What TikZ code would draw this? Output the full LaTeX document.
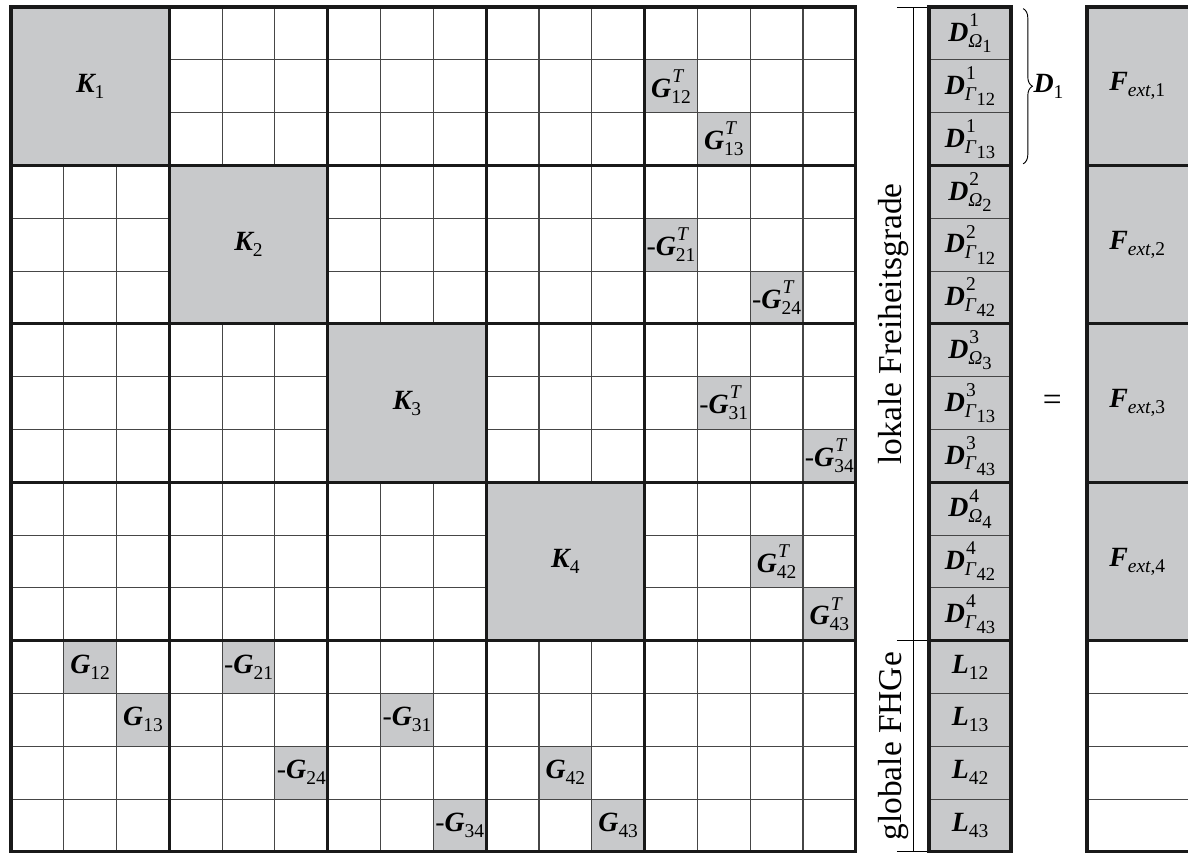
\documentclass[tikz,border=0pt]{standalone}
\usepackage{fontspec}
\setmainfont{Liberation Serif}
\usetikzlibrary{positioning, decorations.pathreplacing}
\definecolor{cellgray}{RGB}{200,201,203}
\definecolor{linegray}{RGB}{70,70,70}
\newcommand{\bfit}[1]{{\bfseries\itshape #1}}
\newcommand{\lsub}[1]{\raisebox{-3.2pt}{\fontsize{10.5}{11}\selectfont\mdseries\upshape #1}}
\newcommand{\lsup}[1]{\rlap{\kern0.6pt\raisebox{8pt}{\fontsize{10.5}{11}\selectfont\mdseries\upshape #1}}}
\newcommand{\nsub}[1]{\raisebox{-2.8pt}{\fontsize{10}{11}\selectfont\upshape #1}}

\begin{document}
\begin{tikzpicture}[x=1cm, y=-1cm,
    thinline/.style={draw=linegray, line width=0.55pt},
    thickline/.style={draw=black!90, line width=1.7pt},
    entry/.style={font=\fontsize{15}{17}\selectfont, inner sep=0pt},
    side/.style={font=\fontsize{18}{20}\selectfont, inner sep=0pt}]
  \useasboundingbox (-0.208,-0.133) rectangle (22.292,16.04);

  % coupling cells
  \foreach \c/\r in {12/1,13/2,12/4,14/5,13/7,15/8,14/10,15/11,
                     1/12,4/12,2/13,7/13,5/14,10/14,8/15,11/15}
    \fill[cellgray] (\c,\r) rectangle ++(1,1);

  % system matrix
  \draw[thinline] (0,0) grid (16,16);
  \foreach \b in {0,...,3}
    \fill[cellgray] (3*\b,3*\b) rectangle ++(3,3);
  \foreach \k in {3,6,9,12} {
    \draw[thickline] (\k,0) -- (\k,16);
    \draw[thickline] (0,\k) -- (16,\k);
  }
  \draw[thickline] (0,0) rectangle (16,16);

  \foreach \i in {1,...,4}
    \node[entry] (K\i) at ({3*\i-1.5},{3*\i-1.5}) {\bfit{K}\lsub{\i}};

  \node[entry] (GT12) at (12.5,1.5) {\bfit{G}\lsup{\textit{T}}\lsub{12}};
  \node[entry] (GT13) at (13.5,2.5) {\bfit{G}\lsup{\textit{T}}\lsub{13}};
  \node[entry] (GT21) at (12.5,4.5) {-\bfit{G}\lsup{\textit{T}}\lsub{21}};
  \node[entry] (GT24) at (14.5,5.5) {-\bfit{G}\lsup{\textit{T}}\lsub{24}};
  \node[entry] (GT31) at (13.5,7.5) {-\bfit{G}\lsup{\textit{T}}\lsub{31}};
  \node[entry] (GT34) at (15.5,8.5) {-\bfit{G}\lsup{\textit{T}}\lsub{34}};
  \node[entry] (GT42) at (14.5,10.5) {\bfit{G}\lsup{\textit{T}}\lsub{42}};
  \node[entry] (GT43) at (15.5,11.5) {\bfit{G}\lsup{\textit{T}}\lsub{43}};

  \node[entry] (G12) at (1.5,12.5) {\bfit{G}\lsub{12}};
  \node[entry] (G21) at (4.5,12.5) {-\bfit{G}\lsub{21}};
  \node[entry] (G13) at (2.5,13.5) {\bfit{G}\lsub{13}};
  \node[entry] (G31) at (7.5,13.5) {-\bfit{G}\lsub{31}};
  \node[entry] (G24) at (5.5,14.5) {-\bfit{G}\lsub{24}};
  \node[entry] (G42) at (10.5,14.5) {\bfit{G}\lsub{42}};
  \node[entry] (G34) at (8.5,15.5) {-\bfit{G}\lsub{34}};
  \node[entry] (G43) at (11.5,15.5) {\bfit{G}\lsub{43}};

  % bracket and labels
  \draw[line width=0.5pt] (17.10,0) -- (17.10,16);
  \foreach \r in {0,12,16}
    \draw[line width=0.5pt] (16.78,\r) -- (17.386,\r);
  \node[side, rotate=90, anchor=base] (lokal) at (16.87,6) {lokale Freiheitsgrade};
  \node[side, rotate=90, anchor=base] (global) at (16.87,14) {globale FHGe};

  % unknowns
  \fill[cellgray] (17.386,0) rectangle (18.94,16);
  \foreach \r in {1,...,15}
    \draw[thinline] (17.386,\r) -- (18.94,\r);
  \foreach \r in {3,6,9,12}
    \draw[thickline] (17.386,\r) -- (18.94,\r);
  \draw[thickline] (17.386,0) rectangle (18.94,16);

  \foreach \i/\a/\b in {1/12/13, 2/12/42, 3/13/43, 4/42/43} {
    \node[entry] (DO\i) at (18.163,3*\i-2.5) {\bfit{D}\lsup{\i}\lsub{\textit{Ω}\nsub{\i}}};
    \node[entry] (DA\i) at (18.163,3*\i-1.5) {\bfit{D}\lsup{\i}\lsub{\textit{Γ}\nsub{\a}}};
    \node[entry] (DB\i) at (18.163,3*\i-0.5) {\bfit{D}\lsup{\i}\lsub{\textit{Γ}\nsub{\b}}};
  }
  \foreach \p [count=\n from 12] in {12,13,42,43}
    \node[entry] (L\p) at (18.163,\n+0.5) {\bfit{L}\lsub{\p}};

  \draw[decorate, decoration={brace, amplitude=5pt}, line width=0.5pt]
    (19.17,0.03) -- (19.17,2.97);
  \node[entry, anchor=west] (Dsub) at (19.36,1.5) {\bfit{D}\lsub{1}};

  \node[side] (eq) at (19.72,7.5) {=};

  % right-hand side
  \fill[cellgray] (20.38,0) rectangle (22.292,12);
  \foreach \r in {13,14,15}
    \draw[thinline] (20.38,\r) -- (22.292,\r);
  \foreach \r in {3,6,9,12}
    \draw[thickline] (20.38,\r) -- (22.292,\r);
  \draw[thickline] (22.292,0) -- (20.38,0) -- (20.38,16) -- (22.292,16);
  \foreach \i in {1,...,4}
    \node[entry] (F\i) at (21.33,3*\i-1.5) {\bfit{F}\lsub{\textit{ext},\i}};
\end{tikzpicture}
\end{document}
